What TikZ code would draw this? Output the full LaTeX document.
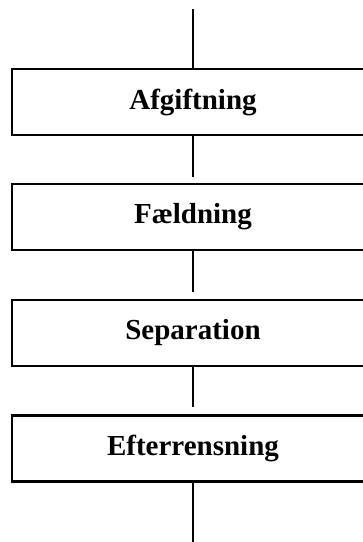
\documentclass[tikz,border=0pt]{standalone}
\usepackage{fontspec}
\setmainfont{Liberation Serif}
\begin{document}
\begin{tikzpicture}[x=1pt,y=-1pt,
  stagebox/.style={draw, line width=2.6pt, minimum width=362pt, minimum height=66pt, inner sep=0pt,
    font=\fontsize{29}{34}\selectfont\bfseries},
  conn/.style={line width=1.6pt}]
\useasboundingbox (0,0) rectangle (363,542);
\node[stagebox] (b1) at (193,102) {Afgiftning};
\node[stagebox] (b2) at (193,217) {Fældning};
\node[stagebox] (b3) at (193,333) {Separation};
\node[stagebox] (b4) at (193,448.5) {Efterrensning};
\coordinate (top) at (193,9);
\coordinate (bot) at (193,542);
\draw[conn] (top) -- (b1.north);
\draw[conn, shorten >=6pt] (b1.south) -- (b2.north);
\draw[conn, shorten >=7pt] (b2.south) -- (b3.north);
\draw[conn, shorten >=7pt] (b3.south) -- (b4.north);
\draw[conn] (b4.south) -- (bot);
\end{tikzpicture}
\end{document}
